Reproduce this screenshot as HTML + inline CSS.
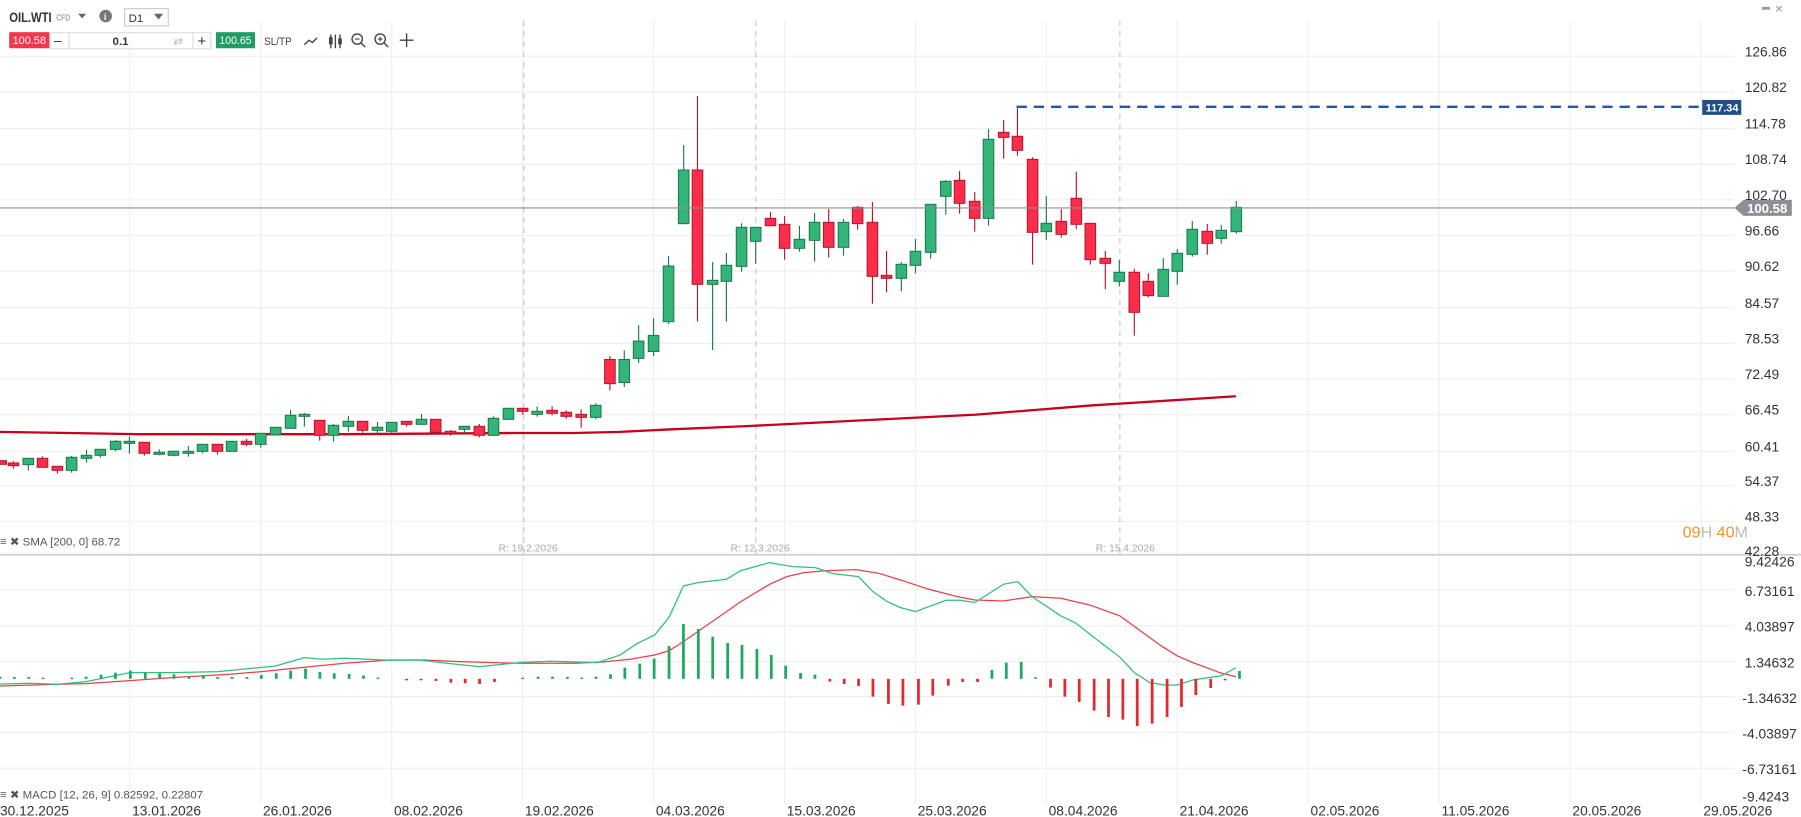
<!DOCTYPE html>
<html><head><meta charset="utf-8"><style>
html,body{margin:0;padding:0;background:#fff;overflow:hidden}
svg{display:block}
text{font-family:"Liberation Sans",sans-serif}
</style></head><body>
<svg id="c" width="1801" height="817" viewBox="0 0 1568 711.3" preserveAspectRatio="none" xmlns="http://www.w3.org/2000/svg">
<rect width="1568" height="711.3" fill="#fff"/>
<g id="grid" stroke="#efefef" stroke-width="1"></g>
<g stroke="#c8c8c8" stroke-width="1" stroke-dasharray="5,4">
<line x1="456" y1="18" x2="456" y2="482"/>
<line x1="658" y1="18" x2="658" y2="482"/>
<line x1="975" y1="18" x2="975" y2="482"/>
</g>
<line x1="0" y1="483" x2="1568" y2="483" stroke="#cfcfcf" stroke-width="1.5"/>
<g id="sma"></g>
<g id="candles"></g>
<line x1="0" y1="181" x2="1510" y2="181" stroke="#8a9096" stroke-width="1"/>
<polygon points="1510,181 1518,174 1560,174 1560,188 1518,188" fill="#8a9096"/>
<text x="1521" y="185.5" font-size="11.5" fill="#fff" font-weight="bold">100.58</text>
<line x1="885" y1="93" x2="1481" y2="93" stroke="#1f5aa6" stroke-width="2" stroke-dasharray="9,6"/>
<rect x="1482" y="87" width="34" height="13" fill="#1f4e8c"/>
<text x="1485" y="97" font-size="9.5" fill="#fff" font-weight="bold">117.34</text>
<g id="macd"></g>
<g font-size="12" fill="#333">
<text x="1519" y="49">126.86</text><text x="1519" y="80">120.82</text><text x="1519" y="112">114.78</text>
<text x="1519" y="143">108.74</text><text x="1519" y="174">102.70</text><text x="1519" y="205">96.66</text>
<text x="1519" y="236">90.62</text><text x="1519" y="268">84.57</text><text x="1519" y="299">78.53</text>
<text x="1519" y="330">72.49</text><text x="1519" y="361">66.45</text><text x="1519" y="393">60.41</text>
<text x="1519" y="423">54.37</text><text x="1519" y="454">48.33</text><text x="1519" y="484">42.28</text>
<text x="1519" y="493">9.42426</text><text x="1519" y="519">6.73161</text><text x="1519" y="550">4.03897</text>
<text x="1519" y="581">1.34632</text><text x="1517" y="612">-1.34632</text><text x="1517" y="643">-4.03897</text>
<text x="1517" y="674">-6.73161</text><text x="1517" y="698">-9.4243</text>
</g>
<text x="1465" y="468" font-size="14"><tspan fill="#f7931e">09</tspan><tspan fill="#bbb">H </tspan><tspan fill="#f7931e">40</tspan><tspan fill="#bbb">M</tspan></text>
<g font-size="12" fill="#333">
<text x="0" y="710">30.12.2025</text><text x="115" y="710">13.01.2026</text><text x="229" y="710">26.01.2026</text>
<text x="343" y="710">08.02.2026</text><text x="457" y="710">19.02.2026</text><text x="571" y="710">04.03.2026</text>
<text x="685" y="710">15.03.2026</text><text x="799" y="710">25.03.2026</text><text x="913" y="710">08.04.2026</text>
<text x="1027" y="710">21.04.2026</text><text x="1141" y="710">02.05.2026</text><text x="1255" y="710">11.05.2026</text>
<text x="1369" y="710">20.05.2026</text><text x="1483" y="710">29.05.2026</text>
</g>
<g font-size="9" fill="#aaa">
<text x="434" y="480">R: 19.2.2026</text><text x="636" y="480">R: 12.3.2026</text><text x="954" y="480">R: 15.4.2026</text>
</g>
<g font-size="10" fill="#555">
<text x="0" y="475">≡ ✖ SMA [200, 0] 68.72</text>
<text x="0" y="695">≡ ✖ MACD [12, 26, 9] 0.82592, 0.22807</text>
</g>
<text x="8" y="19" font-size="12" font-weight="bold" fill="#333" textLength="37" lengthAdjust="spacingAndGlyphs">OIL.WTI</text>
<text x="49" y="18" font-size="7" fill="#777" textLength="12" lengthAdjust="spacingAndGlyphs">CFD</text>
<polygon points="68,12 75,12 71.5,16" fill="#666"/>
<circle cx="92" cy="14" r="5.5" fill="#777"/><text x="90.5" y="17.5" font-size="8" fill="#fff" font-weight="bold">i</text>
<rect x="108.5" y="7.5" width="38" height="15" fill="#fff" stroke="#ccc"/>
<text x="112" y="19" font-size="10" fill="#333">D1</text>
<polygon points="134,12 142,12 138,17" fill="#666"/>
<rect x="8" y="28" width="35" height="14" fill="#f0394d"/>
<text x="11" y="38.5" font-size="10" fill="#fff" textLength="29" lengthAdjust="spacingAndGlyphs">100.58</text>
<rect x="43.5" y="28.5" width="140" height="14" fill="#fff" stroke="#ddd"/>
<line x1="60" y1="28" x2="60" y2="42" stroke="#ddd"/><line x1="168" y1="28" x2="168" y2="42" stroke="#ddd"/>
<text x="47" y="39" font-size="12" fill="#333">–</text>
<text x="98" y="39" font-size="10" fill="#333" font-weight="bold">0.1</text>
<text x="151" y="39" font-size="10" fill="#bbb">⇄</text>
<text x="172" y="40" font-size="13" fill="#333">+</text>
<rect x="188" y="28" width="34" height="14" fill="#1f9d63"/>
<text x="191" y="38.5" font-size="10" fill="#fff" textLength="28" lengthAdjust="spacingAndGlyphs">100.65</text>
<text x="230" y="39" font-size="10" fill="#444" textLength="24" lengthAdjust="spacingAndGlyphs">SL/TP</text>
<polyline points="265,39 269,35 272,37 276,33" fill="none" stroke="#444" stroke-width="1.2"/>
<g stroke="#444" stroke-width="1.2" fill="none"><line x1="288" y1="30" x2="288" y2="42"/><line x1="292" y1="30" x2="292" y2="42"/><line x1="296" y1="30" x2="296" y2="42"/><rect x="287" y="33" width="2" height="5"/><rect x="295" y="34" width="2" height="4"/></g>
<circle cx="311" cy="34" r="4.5" fill="none" stroke="#444" stroke-width="1.2"/><line x1="314" y1="37" x2="318" y2="41" stroke="#444" stroke-width="1.2"/><line x1="309" y1="34" x2="313" y2="34" stroke="#444"/>
<circle cx="331" cy="34" r="4.5" fill="none" stroke="#444" stroke-width="1.2"/><line x1="334" y1="37" x2="338" y2="41" stroke="#444" stroke-width="1.2"/><line x1="329" y1="34" x2="333" y2="34" stroke="#444"/><line x1="331" y1="32" x2="331" y2="36" stroke="#444"/>
<g stroke="#444" stroke-width="1.2"><line x1="348" y1="35" x2="360" y2="35"/><line x1="354" y1="29" x2="354" y2="41"/></g>
<rect x="1534" y="6" width="7" height="2.5" fill="#999"/><text x="1545" y="11" font-size="9" fill="#999">✕</text>
</svg>
<script>
var NS="http://www.w3.org/2000/svg";
function el(p,t,a){var e=document.createElementNS(NS,t);for(var k in a)e.setAttribute(k,a[k]);p.appendChild(e);return e;}
var g=document.getElementById('grid');
[49,80,112,143,174,205,236,268,299,330,361,393,423,454,513.6,544.7,576,606.5,637.5,668.9].forEach(function(y){el(g,'line',{x1:0,y1:y,x2:1510,y2:y});});
for(var x=113;x<1490;x+=114){el(g,'line',{x1:x,y1:18,x2:x,y2:700});}
var C=[];
var z2=[[3,362,373,362,373,0],[35,369,377,363,386,0],[74,355,374,355,392,1],[111,355,382,349,382,0],[150,379,391,379,401,0],[187,352,391,348,398,1],[226,346,355,330,368,1],[262,328,346,328,353,1],[302,304,328,300,334,1],[338,304,310,290,341,1],[377,307,340,307,347,0],[416,337,343,328,346,1],[453,334,346,334,349,1],[492,334,340,318,350,1],[529,313,334,313,340,1],[568,313,334,313,344,0],[605,304,334,304,334,1],[644,304,313,297,319,0],[681,280,313,280,323,1],[720,262,284,262,284,1],[759,226,265,210,265,1],[795,223,229,219,260,1],[835,241,286,241,302,0],[871,256,286,252,305,1],[910,244,259,228,275,1],[947,244,271,244,278,0],[986,262,271,246,281,1],[1023,247,274,247,278,1],[1062,244,253,244,260,0],[1101,238,253,222,253,1],[1138,238,277,238,283,0],[1177,274,280,270,287,0],[1213,259,268,259,280,1],[1252,259,286,252,292,0],[1289,235,286,229,286,1],[1328,205,238,205,238,1],[1365,205,214,205,224,0],[1403,214,223,199,230,1],[1442,211,220,199,226,0],[1479,217,229,211,236,0],[1518,223,232,208,263,0],[1556,196,232,190,238,1]];
z2.forEach(function(c){C.push([c[0]/3,296+c[1]/3.446,296+c[2]/3.446,296+c[3]/3.446,296+c[4]/3.446,c[5]]);});
C.push([531,313,334,310,340,0],[543.5,313,333,305,337,1],[556,297,312,283,316,1],[569,292,306,277,310,1]);
var z3=[[315,558,725,528,732,1],[359,270,431,195,431,1],[399,270,613,48,725,0],[443,601,613,546,810,1],[483,556,604,519,725,1],[527,442,559,430,575,1],[568,442,484,442,551,1],[611,415,437,396,437,0],[652,433,505,408,539,0],[695,478,505,438,515,1],[739,427,481,399,545,1],[780,427,502,387,533,0],[823,427,502,417,527,1],[864,382,431,378,449,0],[907,427,589,366,671,0],[948,586,595,513,637,0],[991,553,595,546,634,1],[1032,514,556,477,580,1],[1076,373,517,373,536,1],[1120,304,349,300,404,1],[1160,301,370,273,401,0],[1204,364,415,336,455,0],[1244,178,415,147,437,1],[1288,157,172,120,236,0],[1328,169,211,84,227,0],[1372,238,457,232,554,0]];
z3.forEach(function(c){C.push([487.6+c[0]/3.335,69.65+c[1]/3.446,69.65+c[2]/3.446,69.65+c[3]/3.446,69.65+c[4]/3.446,c[5]]);});
var z7=[[139,130,155,48,180,1],[184,124,163,87,173,0],[229,55,133,-25,147,0],[271,130,239,130,254,0],[316,235,250,213,327,0],[358,277,304,240,320,1],[403,277,397,267,467,0],[445,304,347,280,352,0],[490,268,349,234,349,1],[532,220,274,207,314,1],[577,148,223,123,230,1],[622,154,190,132,224,0],[664,151,175,135,191,1],[709,82,155,63,161,1]];
z7.forEach(function(c){C.push([870.6+c[0]/3.446,156.7+c[1]/3.446,156.7+c[2]/3.446,156.7+c[3]/3.446,156.7+c[4]/3.446,c[5]]);});
var cg=document.getElementById('candles');
C.forEach(function(c){var fill=c[5]?'#33b579':'#fc2d4b',st=c[5]?'#1b7a4c':'#b3172d';
el(cg,'line',{x1:c[0],y1:c[3],x2:c[0],y2:c[4],stroke:st,'stroke-width':1});
el(cg,'rect',{x:c[0]-4.6,y:c[1],width:9.2,height:Math.max(1.5,c[2]-c[1]),fill:fill,stroke:st,'stroke-width':0.9});});
el(document.getElementById('sma'),'polyline',{points:'0,376 60,377 120,378 300,378 450,377 500,377 540,376 580,374 650,371 750,366 850,361 950,353 1076,345',fill:'none',stroke:'#c8001e','stroke-width':2});
var m=document.getElementById('macd');
function pts(a,x0,s){return a.map(function(p){return (x0+p[0]/s)+','+(461.4+p[1]/3.446);}).join(' ');}
var g5=[[0,462],[50,460],[100,463],[150,455],[226,428],[300,428],[380,425],[480,408],[530,383],[560,388],[600,385],[680,391],[730,390],[790,402],[835,410],[910,397],[960,394],[1040,398],[1080,375],[1110,340],[1140,315],[1165,262],[1190,168],[1215,158],[1265,148],[1290,122],[1340,98],[1380,110],[1420,113],[1450,131],[1495,140],[1520,185],[1545,215],[1568,233]];
var g6=[[27,245],[80,211],[105,211],[130,218],[180,163],[205,155],[230,200],[280,258],[305,278],[345,332],[383,382],[408,428],[435,458],[460,465],[483,465],[510,450],[560,437],[585,413]];
var r5=[[0,468],[100,463],[150,461],[226,452],[300,443],[400,433],[455,425],[530,412],[600,400],[680,390],[740,390],[800,395],[860,398],[910,400],[1000,400],[1050,396],[1100,387],[1140,375],[1165,362],[1190,335],[1240,275],[1290,215],[1340,163],[1370,140],[1400,128],[1440,122],[1490,119],[1530,130],[1568,150]];
var r6=[[50,178],[100,200],[130,210],[180,213],[230,200],[280,205],[330,225],[383,258],[410,292],[455,348],[483,378],[510,398],[560,430],[585,440]];
el(m,'polyline',{points:pts(r5,0,2)+' '+pts(r6,783.6,2),fill:'none',stroke:'#e8414a','stroke-width':1.1});
el(m,'polyline',{points:pts(g5,0,2)+' '+pts(g6,783.6,2),fill:'none',stroke:'#2fbf7f','stroke-width':1.1});
var h5=[[0,440],[25,441],[50,441],[75,443],[125,443],[150,440],[176,434],[201,428],[227,422],[253,428],[278,430],[303,433],[329,438],[354,436],[379,441],[404,441],[430,441],[455,435],[481,430],[506,422],[532,416],[557,426],[582,430],[608,432],[633,437],[658,443],[708,449],[733,448],[759,453],[785,458],[810,460],[835,462],[861,456],[910,443],[937,440],[962,440],[988,441],[1013,443],[1038,440],[1063,433],[1088,413],[1114,401],[1139,386],[1165,348],[1190,282],[1216,297],[1241,320],[1267,339],[1292,345],[1318,357],[1343,375],[1368,407],[1394,429],[1419,434],[1445,455],[1470,462],[1495,468],[1520,500],[1547,522]];
var h6=[[0,527],[27,524],[52,497],[79,467],[104,456],[130,456],[155,420],[180,398],[206,396],[231,442],[257,473],[282,500],[307,516],[333,542],[358,561],[383,569],[408,588],[434,581],[460,561],[485,531],[510,495],[536,474],[561,451],[586,423]];
var zy=591;
function bar(x,y){var v=461.4+y/3.446;var neg=v>zy;var top=Math.min(v,zy),h=Math.max(1.3,Math.abs(v-zy));el(m,'rect',{x:x-1.2,y:top,width:2.4,height:h,fill:neg?'#e3282f':'#1daa5f'});}
h5.forEach(function(b){bar(b[0]/2,b[1]);});
h6.forEach(function(b){bar(783.6+b[0]/2+2.5,b[1]);});
</script>
</body></html>
